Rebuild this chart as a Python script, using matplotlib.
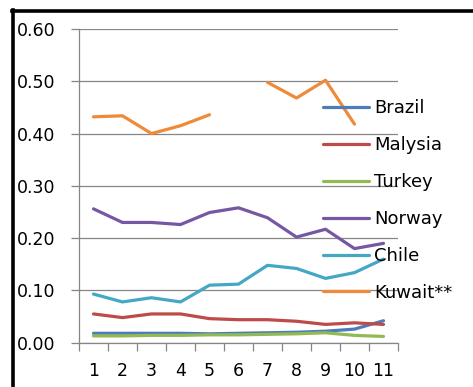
import matplotlib.pyplot as plt
from matplotlib.lines import Line2D
import numpy as np

YEARS = list(range(1, 12))
NAN = float('nan')

brazil = [0.018, 0.018, 0.018, 0.018, 0.017, 0.018, 0.019, 0.020, 0.022, 0.026, 0.042]
malysia = [0.055, 0.048, 0.055, 0.055, 0.046, 0.044, 0.044, 0.041, 0.035, 0.038, 0.035]
turkey = [0.013, 0.013, 0.014, 0.014, 0.015, 0.015, 0.016, 0.017, 0.019, 0.014, 0.012]
norway = [0.256, 0.230, 0.230, 0.226, 0.249, 0.258, 0.239, 0.202, 0.217, 0.180, 0.190]
chile = [0.093, 0.078, 0.086, 0.078, 0.110, 0.112, 0.148, 0.142, 0.123, 0.134, 0.160]
kuwait = [0.432, 0.434, 0.400, 0.415, 0.436, NAN, 0.498, 0.468, 0.502, 0.418, NAN]

NAMES = ["Brazil", "Malysia", "Turkey", "Norway", "Chile", "Kuwait**"]
COLORS = ["#4A7DBA", "#BE4B48", "#93B955", "#7657A4", "#44A8C4", "#EE8A38"]
GRAY = "#868686"
FONT = 12.5

fig = plt.figure(figsize=(4.73, 3.87), dpi=100)
ax = fig.add_axes([79 / 473, 44.3 / 387, 319 / 473, 313.7 / 387])

for series, name, color in zip([brazil, malysia, turkey, norway, chile, kuwait], NAMES, COLORS):
  ax.plot(YEARS, series, color=color, lw=2.3, label=name, solid_capstyle='round', solid_joinstyle='round')

ax.set_xlim(0.5, 11.5)
ax.set_ylim(0, 0.6)
ax.set_yticks(np.arange(0, 0.61, 0.1))
ax.set_yticklabels(["%.2f" % v for v in np.arange(0, 0.61, 0.1)])
ax.set_xticks(YEARS)
ax.set_xticks(np.arange(0.5, 12, 1), minor=True)

ax.grid(axis='y', color=GRAY, lw=0.9)
ax.set_axisbelow(True)
for side in ['top', 'right']:
  ax.spines[side].set_visible(False)
for side in ['left', 'bottom']:
  ax.spines[side].set_color(GRAY)
  ax.spines[side].set_linewidth(0.9)

ax.tick_params(axis='y', length=6, width=0.9, color=GRAY, pad=11, labelsize=FONT)
ax.tick_params(axis='x', which='major', length=0, pad=14, labelsize=FONT)
ax.tick_params(axis='x', which='minor', length=6, width=0.9, color=GRAY)

ax.legend(loc='upper left', bbox_to_anchor=(323 / 473, 1 - 99 / 387),
          bbox_transform=fig.transFigure, frameon=False, fontsize=13,
          handlelength=2.55, handletextpad=0.3, labelspacing=1.05,
          borderpad=0, borderaxespad=0)

# black frame along the top and left edges
fig.add_artist(Line2D([12 / 473, 1], [1 - 10.8 / 387] * 2, color='black', lw=2.6,
                      transform=fig.transFigure))
fig.add_artist(Line2D([13.4 / 473] * 2, [0, 1 - 9.5 / 387], color='black', lw=2.6,
                      transform=fig.transFigure))

plt.savefig("out.png", dpi=100)
